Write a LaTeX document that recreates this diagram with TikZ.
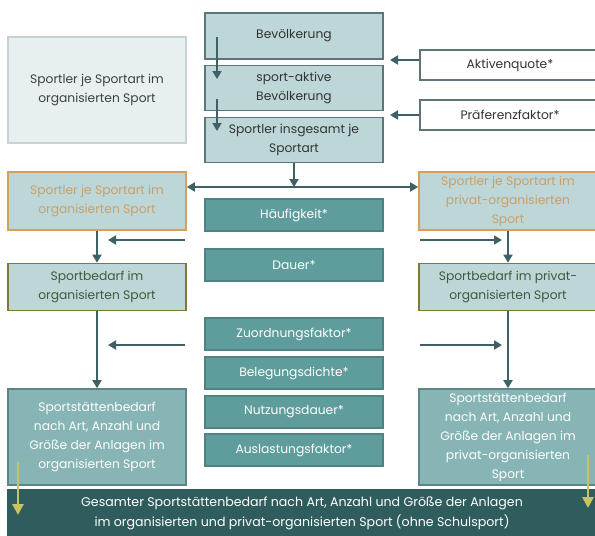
\documentclass[tikz,border=0pt]{standalone}
\usepackage{fontspec}
\setmainfont{Poppins}
\usetikzlibrary{arrows.meta}
\definecolor{linec}{HTML}{3F6166}
\definecolor{paleFill}{HTML}{E7EFF0}
\definecolor{paleLine}{HTML}{C9D2D2}
\definecolor{midFill}{HTML}{BDD7D8}
\definecolor{midLine}{HTML}{5E7577}
\definecolor{orangeLine}{HTML}{D3A05E}
\definecolor{orangeText}{HTML}{C9A06A}
\definecolor{oliveLine}{HTML}{7D7A35}
\definecolor{oliveText}{HTML}{3E5B3C}
\definecolor{tealFill}{HTML}{5E9D9C}
\definecolor{tealLine}{HTML}{4E8283}
\definecolor{resFill}{HTML}{87B4B4}
\definecolor{resLine}{HTML}{5E8586}
\definecolor{darkFill}{HTML}{2F5D5D}
\definecolor{yell}{HTML}{C9C462}
\tikzset{
  x=1pt, y=-1pt,
  base/.style={draw, line width=1.6pt, align=center, inner sep=1pt,
    font=\fontsize{12.3}{19}\selectfont},
  pale/.style={base, fill=paleFill, draw=paleLine, text=black!75, minimum width=178pt, minimum height=106pt},
  mid/.style={base, fill=midFill, draw=midLine, text=black!80, minimum width=178pt},
  factor/.style={base, fill=white, draw=midLine, text=black!80, minimum width=180pt, minimum height=30pt},
  orangebox/.style={base, fill=midFill, draw=orangeLine, text=orangeText, minimum width=178pt, minimum height=58pt},
  olivebox/.style={base, fill=midFill, draw=oliveLine, text=oliveText, minimum width=178pt, minimum height=47pt},
  teal/.style={base, fill=tealFill, draw=tealLine, text=white, minimum width=178pt, minimum height=32pt},
  result/.style={base, fill=resFill, draw=resLine, text=white, minimum width=178pt, minimum height=96pt},
  total/.style={base, fill=darkFill, draw=darkFill, text=white, minimum width=588pt, minimum height=46pt},
  conn/.style={draw=linec, line width=1.8pt, -{Triangle[width=9pt,length=8pt]}},
  conn2/.style={draw=linec, line width=1.8pt, {Triangle[width=9pt,length=8pt]}-{Triangle[width=9pt,length=8pt]}},
  yarrow/.style={draw=yell, line width=2.6pt, -{Triangle[width=11pt,length=11pt]}},
}
\begin{document}
\begin{tikzpicture}
\useasboundingbox (0,0) rectangle (595,536);
\clip (0,0) rectangle (595,536);

% legend-like box at top left
\node[pale] (legend) at (97,90) {Sportler je Sportart im\\organisierten Sport};

% central chain
\node[mid, minimum height=46pt] (bev) at (294,36) {Bevölkerung};
\node[mid, minimum height=45pt] (aktiv) at (294,88) {sport-aktive\\Bevölkerung};
\node[mid, minimum height=45pt] (insg) at (294,140) {Sportler insgesamt je\\Sportart};

% factors on the right
\node[factor] (quote) at (510,65) {Aktivenquote*};
\node[factor] (praef) at (510,115) {Präferenzfaktor*};

% short arrows inside the chain
\coordinate (a1s) at (217,37);
\coordinate (a1e) at (217,79);
\coordinate (a2s) at (217,99);
\coordinate (a2e) at (217,131);
\draw[conn] (a1s) -- (a1e);
\draw[conn] (a2s) -- (a2e);

\coordinate (q1) at (390,60);
\coordinate (q2) at (390,115);
\draw[conn] (quote.west |- q1) -- (q1);
\draw[conn] (praef.west |- q2) -- (q2);

% split into organised / private
\node[orangebox] (orgL) at (97,201) {Sportler je Sportart im\\organisierten Sport};
\node[orangebox] (orgR) at (508,201) {Sportler je Sportart im\\privat-organisierten\\Sport};
\coordinate (split) at (294,187);
\draw[conn] (insg.south) -- (split);
\draw[conn2] (orgL.east |- split) -- (orgR.west |- split);

% frequency and duration
\node[teal] (haeuf) at (294,215) {Häufigkeit*};
\node[teal] (dauer) at (294,265) {Dauer*};
\coordinate (hL0) at (185,240);
\coordinate (hL1) at (108,240);
\coordinate (hR0) at (420,240);
\coordinate (hR1) at (502,240);
\draw[conn] (hL0) -- (hL1);
\draw[conn] (hR0) -- (hR1);

\node[olivebox] (bedL) at (97,287) {Sportbedarf im\\organisierten Sport};
\node[olivebox] (bedR) at (508,287) {Sportbedarf im privat-\\organisierten Sport};
\draw[conn] (orgL.south) -- (bedL.north);
\draw[conn] (orgR.south -| bedR.north) -- (bedR.north);

% facility factors
\node[teal] (zuord) at (294,334) {Zuordnungsfaktor*};
\node[teal] (beleg) at (294,373) {Belegungsdichte*};
\node[teal] (nutz) at (294,412) {Nutzungsdauer*};
\node[teal] (ausl) at (294,450) {Auslastungsfaktor*};
\coordinate (zL0) at (185,345);
\coordinate (zL1) at (108,345);
\coordinate (zR0) at (420,345);
\coordinate (zR1) at (502,345);
\draw[conn] (zL0) -- (zL1);
\draw[conn] (zR0) -- (zR1);

\node[result] (resL) at (97,437) {Sportstättenbedarf\\nach Art, Anzahl und\\Größe der Anlagen im\\organisierten Sport};
\node[result] (resR) at (508,437) {Sportstättenbedarf\\nach Art, Anzahl und\\Größe der Anlagen im\\privat-organisierten\\Sport};
\draw[conn] (bedL.south) -- (resL.north);
\draw[conn] (bedR.south) -- (resR.north);

% overall total
\node[total, font=\fontsize{12.6}{20}\selectfont] (tot) at (302,513) {Gesamter Sportstättenbedarf nach Art, Anzahl und Größe der Anlagen\\im organisierten und privat-organisierten Sport (ohne Schulsport)};

\coordinate (yL0) at (18,462);
\coordinate (yL1) at (18,515);
\coordinate (yR0) at (588,455);
\coordinate (yR1) at (588,508);
\draw[yarrow] (yL0) -- (yL1);
\draw[yarrow] (yR0) -- (yR1);
\end{tikzpicture}
\end{document}
